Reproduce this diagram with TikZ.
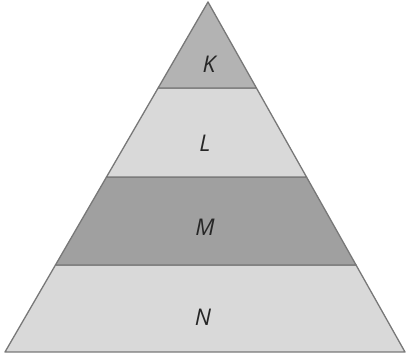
\documentclass[tikz,border=0pt]{standalone}
\usepackage{fontspec}
\setmainfont{Open Sans}
\usetikzlibrary{calc}
\definecolor{bandK}{RGB}{179,179,179}
\definecolor{bandL}{RGB}{217,217,217}
\definecolor{bandM}{RGB}{160,160,160}
\definecolor{bandN}{RGB}{217,217,217}
\definecolor{edge}{RGB}{120,120,120}
\begin{document}
\begin{tikzpicture}[x=1pt,y=1pt,
  band/.style={draw=edge,line width=1.3pt,line join=round},
  lbl/.style={font=\fontsize{23}{25}\selectfont\itshape,text=black!85}]
\useasboundingbox (0,0) rectangle (409,358);
\coordinate (apex) at (208,356);
\coordinate (bl) at (5,6);
\coordinate (br) at (405,6);
\coordinate (l1) at ($(apex)!0.2457!(bl)$);
\coordinate (r1) at ($(apex)!0.2457!(br)$);
\coordinate (l2) at ($(apex)!0.5!(bl)$);
\coordinate (r2) at ($(apex)!0.5!(br)$);
\coordinate (l3) at ($(apex)!0.7514!(bl)$);
\coordinate (r3) at ($(apex)!0.7514!(br)$);
\filldraw[band,fill=bandN] (l3) -- (r3) -- (br) -- (bl) -- cycle;
\filldraw[band,fill=bandM] (l2) -- (r2) -- (r3) -- (l3) -- cycle;
\filldraw[band,fill=bandL] (l1) -- (r1) -- (r2) -- (l2) -- cycle;
\filldraw[band,fill=bandK] (apex) -- (r1) -- (l1) -- cycle;
\node[lbl] (K) at (209,294) {K};
\node[lbl] (L) at (205,215) {L};
\node[lbl] (M) at (205,130.5) {M};
\node[lbl] (N) at (203,41) {N};
\end{tikzpicture}
\end{document}
